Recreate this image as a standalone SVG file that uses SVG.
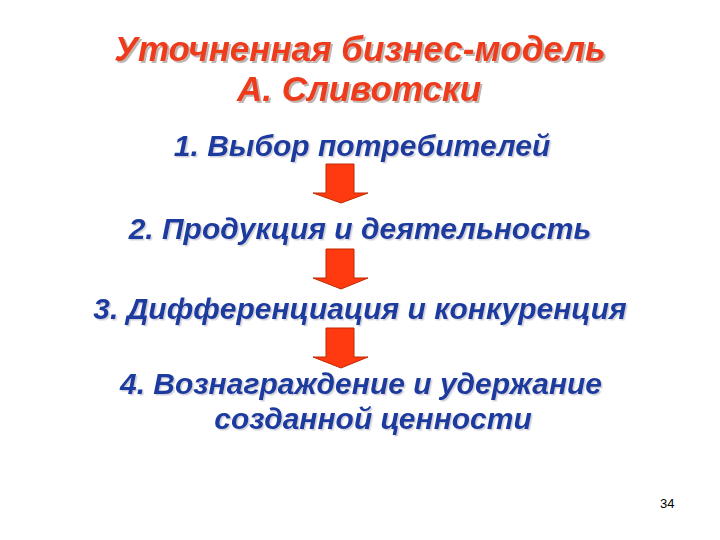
<svg xmlns="http://www.w3.org/2000/svg" width="720" height="540" viewBox="0 0 720 540">
<defs>
<filter id="shadow" x="-5%" y="-20%" width="110%" height="140%">
<feDropShadow dx="2" dy="2" stdDeviation="0.6" flood-color="#8A7A70" flood-opacity="0.55"/>
</filter>
<filter id="shadowB" x="-5%" y="-20%" width="110%" height="140%">
<feDropShadow dx="1.5" dy="1.5" stdDeviation="0.6" flood-color="#A0A0B8" flood-opacity="0.5"/>
</filter>
<style>
.title{font-family:"Liberation Sans",Arial,sans-serif;font-weight:bold;font-style:italic;font-size:35px;fill:#EE3A1A;text-anchor:middle;filter:url(#shadow)}
.step{font-family:"Liberation Sans",Arial,sans-serif;font-weight:bold;font-style:italic;font-size:30px;fill:#1C3A9E;text-anchor:middle;filter:url(#shadowB)}
.num{font-family:"Liberation Sans",Arial,sans-serif;font-size:13px;fill:#000}
.arrow{fill:#FF3A10;stroke:#C02800;stroke-width:1}
</style>
</defs>
<rect width="720" height="540" fill="#FFFFFF"/>
<g id="title">
<text class="title" x="360" y="61">Уточненная бизнес-модель</text>
<text class="title" x="359" y="101">А. Сливотски</text>
</g>
<g id="step1">
<text class="step" x="362" y="156">1. Выбор потребителей</text>
</g>
<g id="step2">
<text class="step" x="360" y="239">2. Продукция и деятельность</text>
</g>
<g id="step3">
<text class="step" x="360" y="319">3. Дифференциация и конкуренция</text>
</g>
<g id="step4">
<text class="step" x="361" y="394">4. Вознаграждение и удержание</text>
<text class="step" x="373" y="429">созданной ценности</text>
</g>
<g id="connectors">
<path class="arrow" d="M326,164 H354 V193 H368 L341,203 L313,193 H326 Z"/>
<path class="arrow" d="M326,249 H354 V278 H368 L341,289 L313,278 H326 Z"/>
<path class="arrow" d="M326,328 H354 V357 H368 L341,368 L313,357 H326 Z"/>
</g>
<text class="num" x="660" y="508">34</text>
</svg>
